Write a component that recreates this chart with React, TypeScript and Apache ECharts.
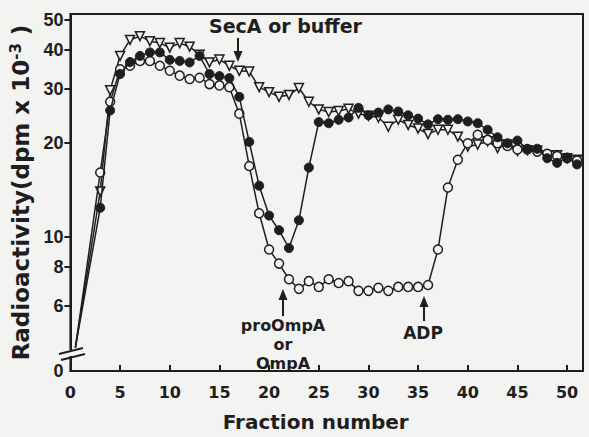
import React, { useEffect, useRef } from "react";
import * as echarts from "echarts";

// Fraction numbers (x) for the measured points
const fractions = [
  3, 4, 5, 6, 7, 8, 9, 10, 11, 12, 13, 14, 15, 16, 17, 18, 19, 20, 21, 22, 23, 24, 25, 26, 27,
  28, 29, 30, 31, 32, 33, 34, 35, 36, 37, 38, 39, 40, 41, 42, 43, 44, 45, 46, 47, 48, 49, 50, 51,
];

// Radioactivity (dpm x 10^-3), filled circles
const filledCircles = [
  12.4, 25.5, 33.4, 36.5, 38.2, 39.2, 39.2, 37.1, 36.8, 36.4, 38.2, 33.4, 32.9, 32.4, 28.2, 20.2,
  14.6, 11.7, 10.5, 9.2, 11.3, 16.7, 23.4, 23.2, 23.8, 24.2, 26.0, 24.6, 25.1, 25.7, 25.3, 24.6,
  24.0, 23.0, 23.9, 23.8, 23.9, 23.5, 23.2, 22.1, 20.9, 20.0, 20.4, 19.2, 19.2, 17.9, 17.3, 18.0,
  17.1,
];

// open circles
const openCircles = [
  16.1, 27.2, 34.6, 35.5, 36.8, 36.8, 35.5, 34.2, 33.0, 32.2, 32.5, 31.0, 30.7, 30.3, 24.9, 16.9,
  11.9, 9.1, 8.2, 7.3, 6.8, 7.2, 6.9, 7.3, 7.1, 7.2, 6.7, 6.7, 6.85, 6.7, 6.9, 6.9, 6.9, 7.0, 9.1,
  14.4, 17.7, 20.0, 21.3, 20.5, 20.0, 19.6, 19.1, 19.1, 18.8, 18.5, 18.2, 17.9, 17.6,
];

// open inverted triangles
const openTriangles = [
  14.0, 29.6, 38.2, 43.0, 44.2, 42.6, 42.0, 40.6, 42.0, 40.9, 38.5, 36.4, 37.2, 35.5, 34.2, 34.0,
  30.3, 29.2, 28.2, 28.6, 30.1, 27.2, 25.7, 25.2, 25.4, 25.8, 24.9, 24.5, 24.2, 22.6, 23.8, 22.9,
  22.3, 21.4, 22.1, 22.1, 21.0, 19.5, 19.8, 20.3, 19.3, 19.8, 18.9, 19.0, 18.9, 18.3, 18.3, 17.9,
  17.7,
];

// starting point of every curve (value 0, drawn at the axis break)
const startFraction = 0.5;
const startValue = 0;

// y tick labels (log scale with a break down to 0)
const yTickValues = [6, 8, 10, 20, 30, 40, 50];
const Y_MIN = 3.7;
const Y_MAX = 52.1;
const BREAK_LEVEL = 4.4;

const BG = "#f3f3f1";
const INK = "#1e1e1e";
const FONT = "'Liberation Sans', Arial, sans-serif";
const WIDE = "'DejaVu Sans', Verdana, sans-serif";

const toAxis = (v: number) => Math.log10(v === 0 ? BREAK_LEVEL : v);

const buildData = (vals: number[]) => [
  { value: [startFraction, toAxis(startValue)], symbol: "none" },
  ...fractions.map((f, i) => [f, toAxis(vals[i])]),
];

export default function App() {
  const ref = useRef<HTMLDivElement>(null);

  useEffect(() => {
    if (!ref.current) return;
    const chart = echarts.init(ref.current, null, { renderer: "svg" });

    const lineStyle = { color: INK, width: 1.5 };

    chart.setOption({
      animation: false,
      backgroundColor: BG,
      grid: {
        left: 68,
        right: 6,
        top: 14,
        bottom: 61,
        show: true,
        borderColor: INK,
        borderWidth: 2,
        backgroundColor: "transparent",
      },
      xAxis: {
        type: "value",
        min: 0,
        max: 51.6,
        interval: 5,
        axisLine: { show: true, lineStyle: { color: INK, width: 2 } },
        axisTick: { show: true, inside: true, length: 6, lineStyle: { color: INK, width: 2 } },
        axisLabel: {
          color: INK,
          fontSize: 16,
          fontWeight: "bold",
          fontFamily: WIDE,
          margin: 13,
          showMaxLabel: false,
        },
        splitLine: { show: false },
        name: "Fraction number",
        nameLocation: "middle",
        nameGap: 41,
        nameTextStyle: {
          color: INK,
          fontSize: 20,
          fontWeight: "bold",
          fontFamily: WIDE,
          padding: [0, 22, 0, 0],
        },
      },
      yAxis: {
        type: "value",
        min: Math.log10(Y_MIN),
        max: Math.log10(Y_MAX),
        axisLine: { show: true, lineStyle: { color: INK, width: 2 } },
        axisTick: {
          show: true,
          inside: false,
          length: 6,
          customValues: yTickValues.map((v) => Math.log10(v)),
          lineStyle: { color: INK, width: 2 },
        },
        axisLabel: {
          customValues: [Math.log10(Y_MIN), ...yTickValues.map((v) => Math.log10(v))],
          formatter: (v: number) => (v < Math.log10(5) ? "0" : String(Math.round(Math.pow(10, v)))),
          color: INK,
          fontSize: 18,
          fontWeight: "bold",
          fontFamily: FONT,
          margin: 7,
        },
        splitLine: { show: false },
        name: "{a|Radioactivity(dpm x 10}{s|-3}{a| )}",
        nameLocation: "middle",
        nameRotate: 90,
        nameGap: 34,
        nameTextStyle: {
          color: INK,
          fontFamily: WIDE,
          rich: {
            a: { fontSize: 23, fontWeight: "bold", color: INK, fontFamily: WIDE },
            s: {
              fontSize: 15,
              fontWeight: "bold",
              color: INK,
              fontFamily: WIDE,
              padding: [0, 0, 11, 0],
            },
          },
        },
      },
      series: [
        {
          type: "line",
          name: "triangles",
          data: buildData(openTriangles),
          symbol: "triangle",
          symbolRotate: 180,
          symbolSize: 9,
          itemStyle: { color: BG, borderColor: INK, borderWidth: 1.5 },
          lineStyle,
          z: 2,
        },
        {
          type: "line",
          name: "open",
          data: buildData(openCircles),
          symbol: "circle",
          symbolSize: 9,
          itemStyle: { color: BG, borderColor: INK, borderWidth: 1.5 },
          lineStyle,
          z: 3,
        },
        {
          type: "line",
          name: "filled",
          data: buildData(filledCircles),
          symbol: "circle",
          symbolSize: 9,
          itemStyle: { color: INK, borderColor: INK, borderWidth: 1 },
          lineStyle,
          z: 4,
        },
      ],
      graphic: [
        // axis break
        { type: "rect", shape: { x: 58, y: 350, width: 28, height: 6 }, style: { fill: BG }, z: 100 },
        { type: "line", shape: { x1: 59, y1: 354, x2: 83, y2: 348 }, style: { stroke: INK, lineWidth: 2 }, z: 101 },
        { type: "line", shape: { x1: 61, y1: 360, x2: 85, y2: 354 }, style: { stroke: INK, lineWidth: 2 }, z: 101 },
        // SecA or buffer
        {
          type: "text",
          x: 209,
          y: 26,
          style: {
            text: "SecA or buffer",
            font: `bold 19px ${WIDE}`,
            fill: INK,
            align: "left",
            verticalAlign: "middle",
          },
          z: 100,
        },
        { type: "line", shape: { x1: 238, y1: 38, x2: 238, y2: 54 }, style: { stroke: INK, lineWidth: 2 }, z: 100 },
        { type: "polygon", shape: { points: [[233.5, 51], [242.5, 51], [238, 62]] }, style: { fill: INK }, z: 100 },
        // proOmpA or OmpA
        {
          type: "text",
          x: 283,
          y: 316,
          style: {
            text: "proOmpA\nor\nOmpA",
            font: `bold 16px ${WIDE}`,
            fill: INK,
            align: "center",
            verticalAlign: "top",
            lineHeight: 19,
          },
          z: 100,
        },
        { type: "line", shape: { x1: 283, y1: 316, x2: 283, y2: 298 }, style: { stroke: INK, lineWidth: 2 }, z: 100 },
        { type: "polygon", shape: { points: [[278.5, 300], [287.5, 300], [283, 289]] }, style: { fill: INK }, z: 100 },
        // ADP
        {
          type: "text",
          x: 423,
          y: 333,
          style: {
            text: "ADP",
            font: `bold 17px ${WIDE}`,
            fill: INK,
            align: "center",
            verticalAlign: "middle",
          },
          z: 100,
        },
        { type: "line", shape: { x1: 424, y1: 321, x2: 424, y2: 306 }, style: { stroke: INK, lineWidth: 2 }, z: 100 },
        { type: "polygon", shape: { points: [[419.5, 307], [428.5, 307], [424, 296]] }, style: { fill: INK }, z: 100 },
      ],
    });

    return () => chart.dispose();
  }, []);

  return (
    <div
      ref={ref}
      style={{ position: "fixed", left: 0, top: 0, width: 589, height: 437, background: BG }}
    />
  );
}
